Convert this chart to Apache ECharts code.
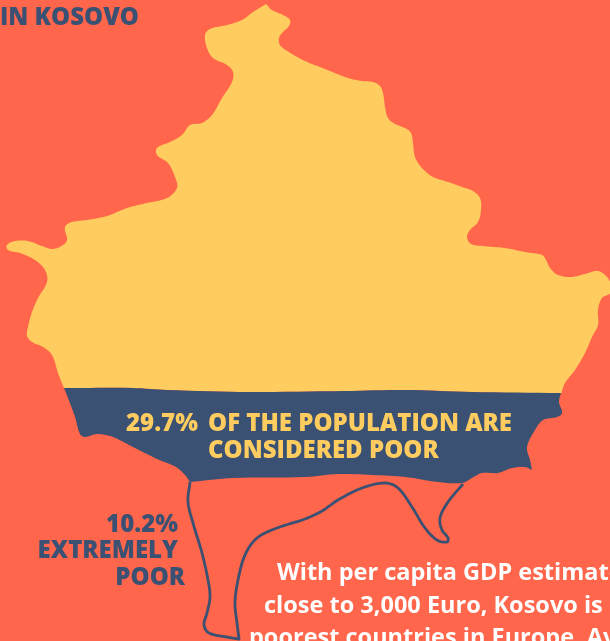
<!DOCTYPE html>
<html>
<head>
<meta charset="utf-8">
<style>html,body{margin:0;padding:0;background:#FF664B;overflow:hidden}#chart{width:610px;height:641px}</style>
<script src="https://cdn.jsdelivr.net/npm/echarts@6/dist/echarts.min.js"></script>
</head>
<body>
<div id="chart"></div>
<script>
// Poverty shares shown on the map
const poorShare = 29.7;
const extremelyPoorShare = 10.2;

// Territory outline, split into bands, in map units
const nonPoorBand = [[266,4],[272,10],[283,15],[290,20],[289,26],[283,32],[279,38],[280,45],[287,51],[305,61],[325,69],[348,78],[362,81],[373,82],[380,86],[383,93],[385,107],[388,118],[395,124],[405,128],[411,133],[413,143],[415,157],[422,168],[433,177],[448,182],[462,187],[473,191],[480,198],[481,210],[478,222],[470,230],[467,237],[471,244],[482,246],[505,248],[525,252],[542,255],[546,260],[550,268],[558,275],[572,277],[585,274],[598,271],[607,277],[612,287],[611,293],[602,298],[598,310],[598,325],[592,337],[585,353],[575,370],[565,383],[561,394],[472,392],[405,390],[345,391],[250,392],[167,390],[133,388],[64,388],[58,373],[52,355],[43,347],[32,342],[27,336],[28,327],[32,312],[38,298],[47,282],[45,270],[35,260],[20,253],[8,250],[7,245],[15,241],[28,241],[42,246],[53,249],[63,245],[67,240],[65,227],[72,222],[87,220],[107,216],[127,208],[147,203],[167,198],[177,188],[175,177],[168,163],[157,155],[157,148],[170,142],[182,135],[190,125],[202,123],[212,115],[222,98],[232,82],[233,72],[227,65],[213,58],[207,48],[205,35],[210,29],[227,25],[242,20],[253,12]];
const poorBand = [[64,388],[133,388],[167,390],[250,392],[345,391],[405,390],[472,392],[561,393],[559,402],[562,413],[557,417],[543,420],[535,430],[527,447],[530,460],[532,470],[525,467],[512,468],[498,473],[482,473],[472,478],[462,483],[438,482],[405,477],[372,475],[338,474],[305,477],[233,478],[190,482],[185,475],[176,467],[157,459],[133,447],[113,437],[97,434],[85,437],[80,434],[75,417],[68,398]];
const extremelyPoorBand = [[190,482],[188,502],[193,523],[202,553],[208,580],[210,597],[207,613],[204,625],[209,633],[227,637],[239,639],[237,623],[235,603],[238,580],[245,555],[257,538],[277,528],[305,519],[322,511],[338,500],[362,488],[385,483],[398,488],[412,507],[425,528],[437,540],[447,542],[448,538],[442,530],[440,518],[448,502],[463,484]];

// Vertices where the outline turns sharply instead of curving
const nonPoorCorners = [0, 54, 61];
const poorCorners = [0, 7, 15, 28];
const extremelyPoorCorners = [10];

const bands = [nonPoorBand, poorBand, extremelyPoorBand];
const corners = [nonPoorCorners, poorCorners, extremelyPoorCorners];

const titleLine = 'IN KOSOVO';
const poorLines = ['OF THE POPULATION ARE', 'CONSIDERED POOR'];
const extremeLines = ['EXTREMELY', 'POOR'];
const bodyLines = ['With per capita GDP estimates', 'close to 3,000 Euro, Kosovo is one', 'poorest countries in Europe. Av'];

const NAVY = '#3A5173';
const YELLOW = '#FFCC5F';
const WHITE = '#FFFFFF';
const CORAL = '#FF664B';
const FAMILY = '"Open Sans", sans-serif';

function label(text, x, y, size, weight, fill, align) {
  return {
    type: 'text', silent: true, z: 20,
    style: { text, x, y, fill, font: weight + ' ' + size + 'px ' + FAMILY, textAlign: align || 'left', textVerticalAlign: 'middle' }
  };
}

// Rounds an outline into a bezier curve that passes through every vertex
function roundOutline(pts, closed, sharp) {
  const n = pts.length;
  const at = i => closed ? pts[(i + n) % n] : pts[Math.max(0, Math.min(n - 1, i))];
  const unitTangent = i => {
    const a = at(i - 1), b = at(i + 1);
    const dx = b[0] - a[0], dy = b[1] - a[1];
    const len = Math.hypot(dx, dy) || 1;
    return [dx / len, dy / len];
  };
  const isSharp = i => sharp.indexOf((i + n) % n) >= 0;
  const out = [];
  const segments = closed ? n : n - 1;
  for (let i = 0; i < segments; i++) {
    const p0 = at(i), p1 = at(i + 1);
    const len = Math.hypot(p1[0] - p0[0], p1[1] - p0[1]);
    const t0 = isSharp(i) ? [(p1[0] - p0[0]) / (len || 1), (p1[1] - p0[1]) / (len || 1)] : unitTangent(i);
    const t1 = isSharp(i + 1) ? [(p1[0] - p0[0]) / (len || 1), (p1[1] - p0[1]) / (len || 1)] : unitTangent(i + 1);
    const c0 = [p0[0] + t0[0] * len / 3, p0[1] + t0[1] * len / 3];
    const c1 = [p1[0] - t1[0] * len / 3, p1[1] - t1[1] * len / 3];
    for (let k = 0; k < 8; k++) {
      const u = k / 8, v = 1 - u;
      out.push([
        v*v*v*p0[0] + 3*v*v*u*c0[0] + 3*v*u*u*c1[0] + u*u*u*p1[0],
        v*v*v*p0[1] + 3*v*v*u*c0[1] + 3*v*u*u*c1[1] + u*u*u*p1[1]
      ]);
    }
  }
  if (!closed) out.push(at(n - 1));
  return out;
}

// Filled bands for the first two entries, an open stroked line for the third
function renderBand(params, api) {
  const index = params.dataIndex;
  const open = index === 2;
  const points = roundOutline(bands[index].map(p => api.coord(p)), !open, corners[index]);
  if (open) {
    return { type: 'polyline', shape: { points }, style: { stroke: NAVY, lineWidth: 2.8, fill: null, lineJoin: 'round' } };
  }
  return { type: 'polygon', shape: { points }, style: { fill: index === 0 ? YELLOW : NAVY } };
}

const chart = echarts.init(document.getElementById('chart'), null, { renderer: 'canvas' });
chart.setOption({
  animation: false,
  backgroundColor: CORAL,
  grid: { left: 0, right: 0, top: 0, bottom: 0 },
  xAxis: { type: 'value', min: 0, max: 610, show: false },
  yAxis: { type: 'value', min: 0, max: 641, inverse: true, show: false },
  series: [{
    type: 'custom',
    coordinateSystem: 'cartesian2d',
    silent: true,
    clip: true,
    renderItem: renderBand,
    encode: { x: 0, y: 1 },
    data: bands.map(b => b[0])
  }],
  graphic: [
    label(titleLine, 0, 18, 24, 800, NAVY),
    label(poorShare.toFixed(1) + '%', 126, 424, 24, 800, YELLOW),
    label(poorLines[0], 208, 424, 24, 800, YELLOW),
    label(poorLines[1], 208, 451, 24, 800, YELLOW),
    label(extremelyPoorShare.toFixed(1) + '%', 178, 525, 24, 800, NAVY, 'right'),
    label(extremeLines[0], 178, 551, 24, 800, NAVY, 'right'),
    label(extremeLines[1], 185, 578, 24, 800, NAVY, 'right'),
    label(bodyLines[0], 277, 573, 23.5, 700, WHITE),
    label(bodyLines[1], 264, 606, 23.5, 700, WHITE),
    label(bodyLines[2], 249, 638, 23.5, 700, WHITE)
  ]
});
</script>
</body>
</html>
